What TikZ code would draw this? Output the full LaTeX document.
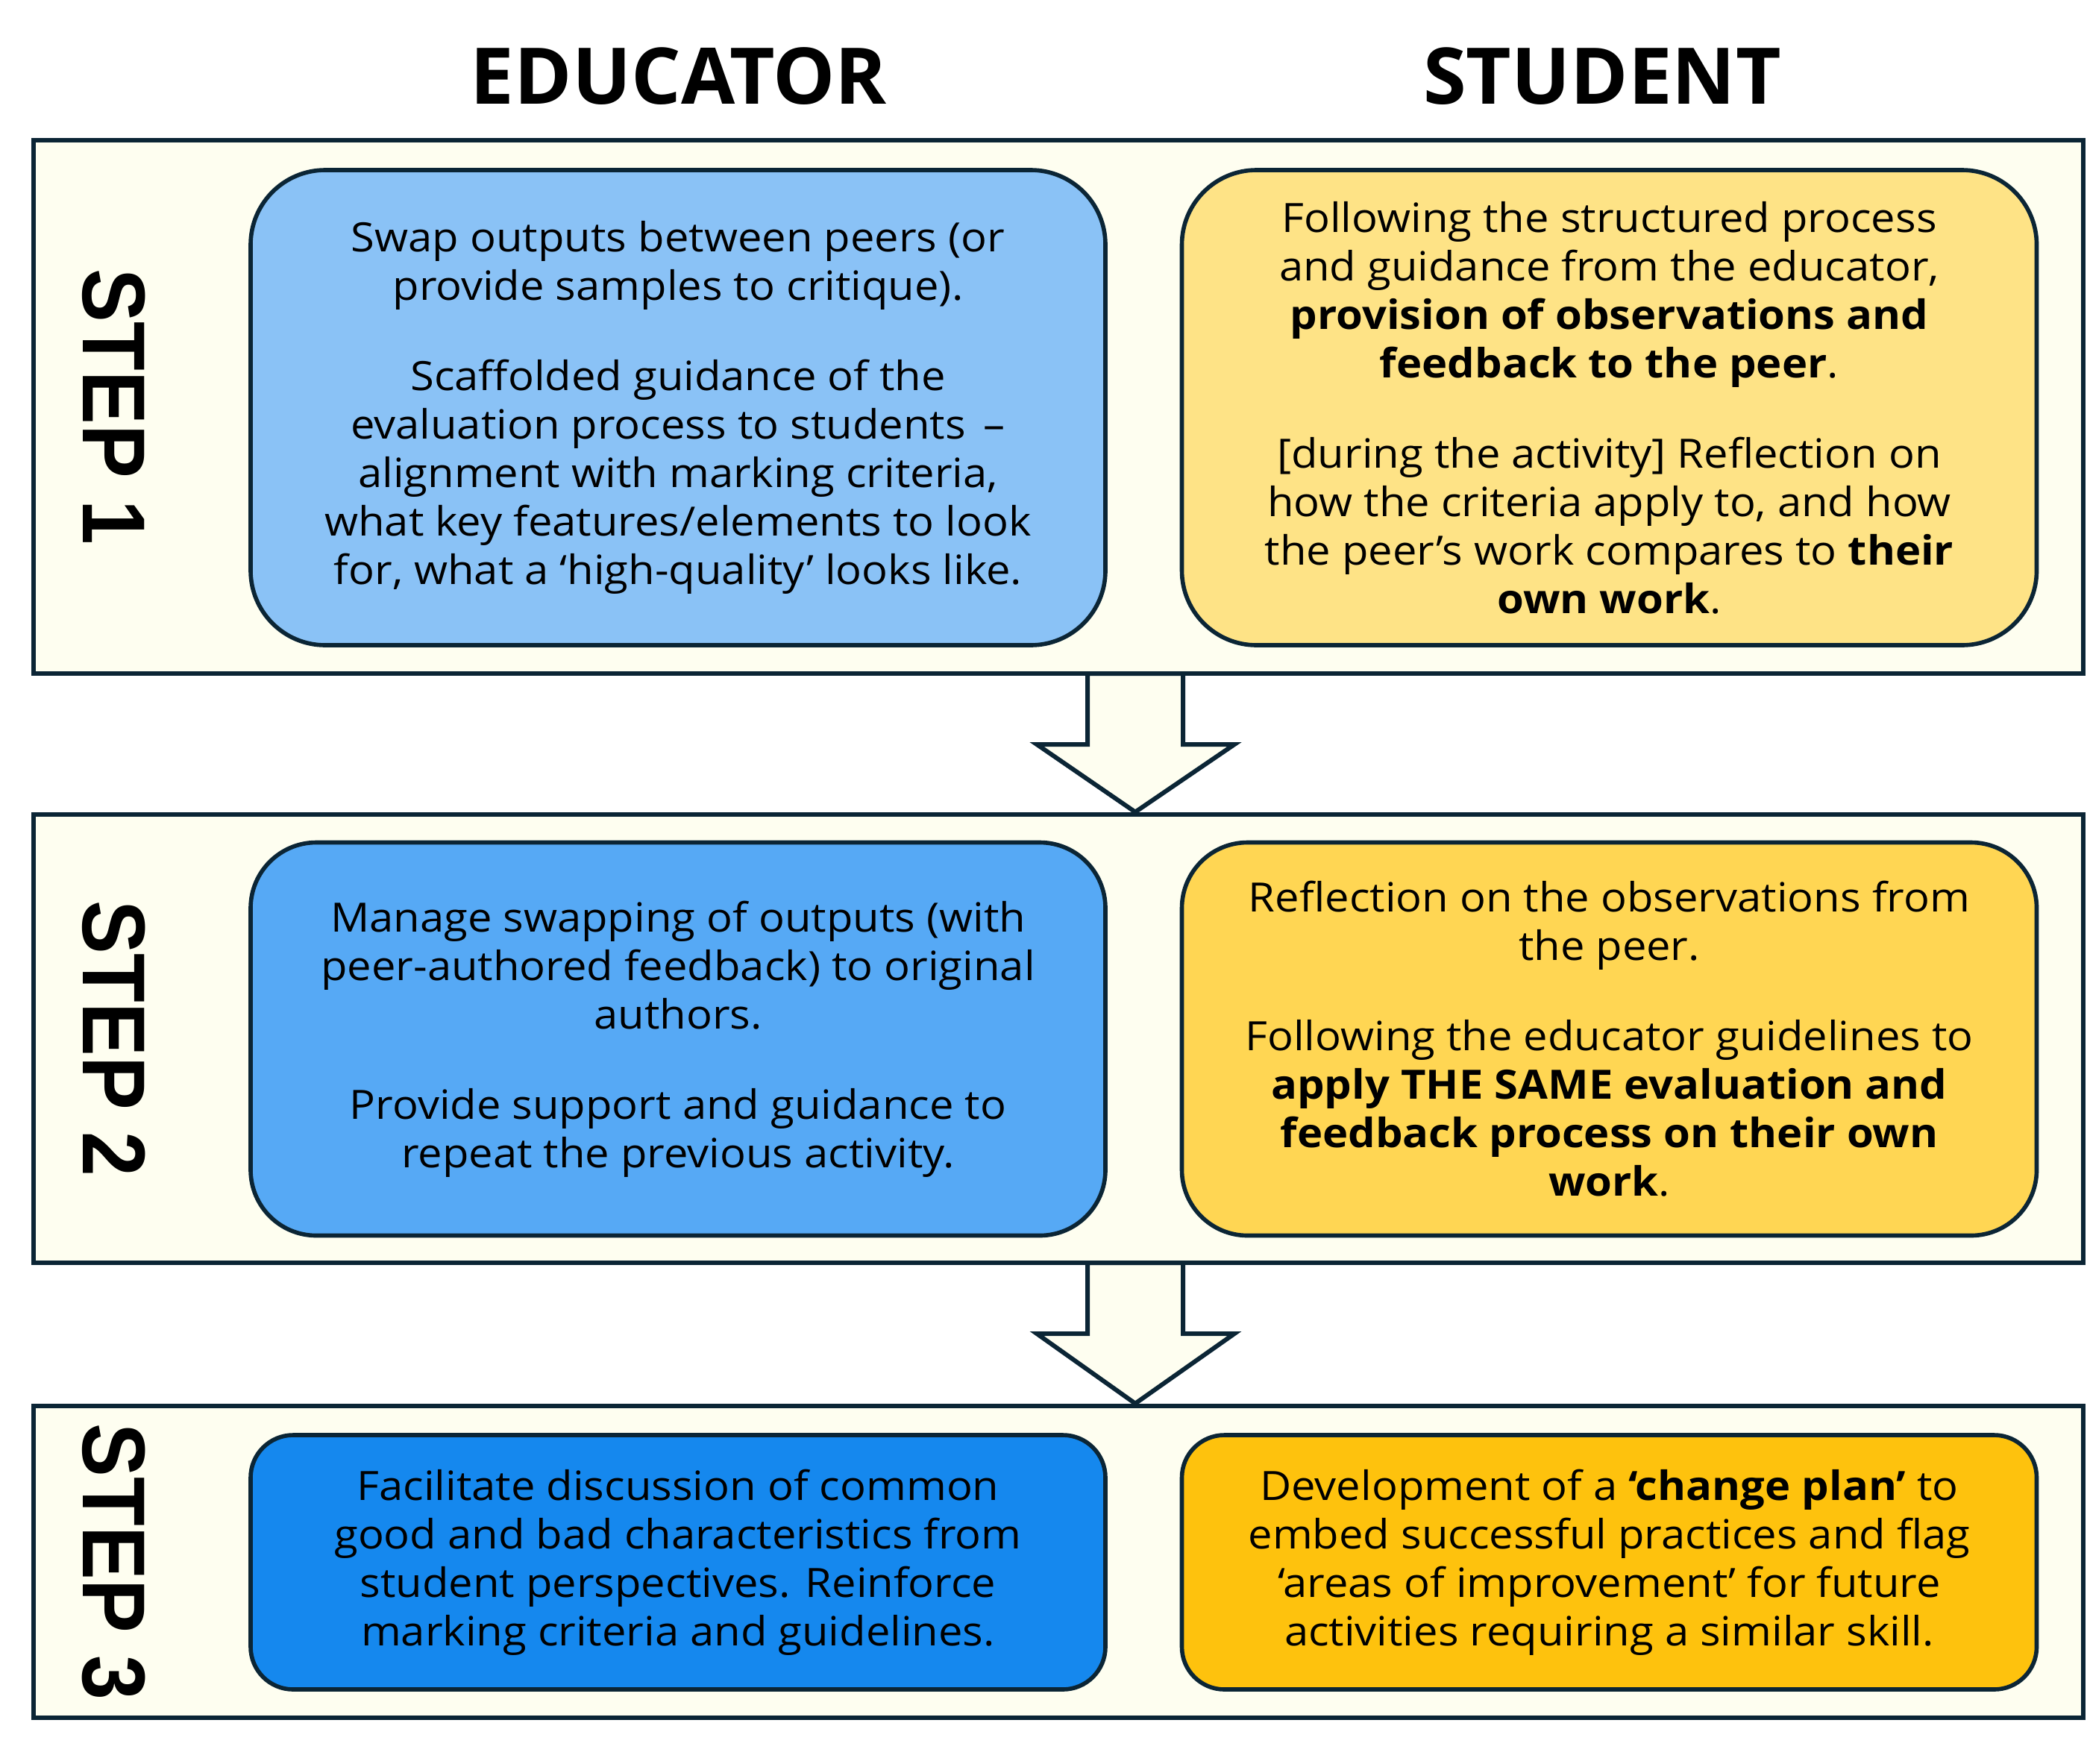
\documentclass[tikz,border=0pt]{standalone}
\usepackage{fontspec}
\setmainfont[FakeStretch=1.07]{Open Sans}
\newfontfamily\headfont{Open Sans}
\newfontfamily\stepfont[FakeStretch=0.9]{Liberation Sans}
\usepackage{tikz}
\usetikzlibrary{calc}
\definecolor{navy}{HTML}{0B2535}
\definecolor{ivory}{HTML}{FEFEF0}
\definecolor{blueA}{HTML}{8AC2F6}
\definecolor{blueB}{HTML}{56A9F5}
\definecolor{blueC}{HTML}{1588EE}
\definecolor{yellowA}{HTML}{FEE386}
\definecolor{yellowB}{HTML}{FFD653}
\definecolor{yellowC}{HTML}{FEC20D}
\begin{document}
\begin{tikzpicture}[>=stealth,
        stepbox/.style={draw=navy,line width=1.9pt,fill=ivory,minimum width=27.48cm,inner sep=0pt},
        rolebox/.style={draw=navy,line width=1.6pt,minimum width=11.46cm,inner sep=0pt,align=center,
            font=\fontsize{15.4}{18.5}\selectfont},
        steplabel/.style={rotate=-90,font=\stepfont\bfseries\fontsize{34}{40}\selectfont},
        heading/.style={font=\headfont\bfseries\fontsize{29.8}{36}\selectfont},
        blockarrow/.style={draw=navy,line width=1.7pt,fill=ivory,line join=miter}]
\useasboundingbox (0,0) rectangle (27.98,-23.64);
\node[heading] (educator) at (9.10,-1.02) {EDUCATOR};
\node[heading] (student) at (21.48,-1.02) {STUDENT};
\node[stepbox,minimum height=7.15cm] (s1) at (14.19,-5.455) {};
\node[stepbox,minimum height=6.01cm] (s2) at (14.19,-13.925) {};
\node[stepbox,minimum height=4.18cm] (s3) at (14.19,-20.94) {};
\node[steplabel] (l1) at (1.53,-5.455) {STEP 1};
\node[steplabel] (l2) at (1.53,-13.925) {STEP 2};
\node[steplabel] (l3) at (1.53,-20.94) {STEP 3};
\node[rolebox,fill=blueA,minimum height=6.37cm,rounded corners=1cm] (e1) at (9.09,-5.465) {Swap outputs between peers (or\\
provide samples to critique).\\[0.56cm]
Scaffolded guidance of the\\
evaluation process to students \,–\\
alignment with marking criteria,\\
what key features/elements to look\\
for, what a ‘high-quality’ looks like.};
\node[rolebox,fill=yellowA,minimum height=6.37cm,rounded corners=1cm] (p1) at (21.575,-5.465) {Following the structured process\\
and guidance from the educator,\\
\textbf{provision of observations and}\\
\textbf{feedback to the peer}.\\[0.56cm]
[during the activity] Reflection on\\
how the criteria apply to, and how\\
the peer’s work compares to \textbf{their}\\
\textbf{own work}.};
\node[rolebox,fill=blueB,minimum height=5.27cm,rounded corners=0.88cm] (e2) at (9.09,-13.93) {Manage swapping of outputs (with\\
peer-authored feedback) to original\\
authors.\\[0.56cm]
Provide support and guidance to\\
repeat the previous activity.};
\node[rolebox,fill=yellowB,minimum height=5.27cm,rounded corners=0.88cm] (p2) at (21.575,-13.93) {Reflection on the observations from\\
the peer.\\[0.56cm]
Following the educator guidelines to\\
\textbf{apply THE SAME evaluation and}\\
\textbf{feedback process on their own}\\
\textbf{work}.};
\node[rolebox,fill=blueC,minimum height=3.41cm,rounded corners=0.57cm] (e3) at (9.09,-20.945) {Facilitate discussion of common\\
good and bad characteristics from\\
student perspectives. Reinforce\\
marking criteria and guidelines.};
\node[rolebox,fill=yellowC,minimum height=3.41cm,rounded corners=0.57cm] (p3) at (21.575,-20.945) {Development of a \textbf{‘change plan’} to\\
embed successful practices and flag\\
‘areas of improvement’ for future\\
activities requiring a similar skill.};
\coordinate (a1) at (15.22,-9.03);
\coordinate (a2) at (15.22,-16.93);
\draw[blockarrow] ($(a1)+(-0.64,0)$) -- ++(0,-0.95) -- ++(-0.68,0) -- (a1 |- s2.north)
    -- ($(a1)+(1.33,-0.95)$) -- ++(-0.69,0) -- ++(0,0.95) -- cycle;
\draw[blockarrow] ($(a2)+(-0.64,0)$) -- ++(0,-0.95) -- ++(-0.68,0) -- (a2 |- s3.north)
    -- ($(a2)+(1.33,-0.95)$) -- ++(-0.69,0) -- ++(0,0.95) -- cycle;
\end{tikzpicture}
\end{document}
